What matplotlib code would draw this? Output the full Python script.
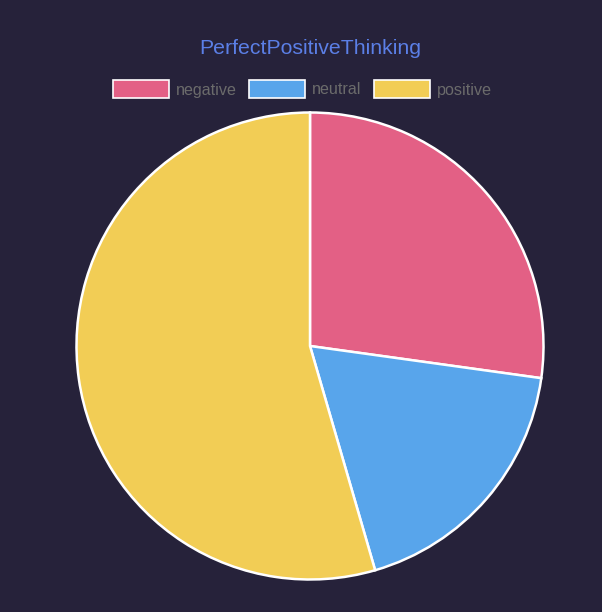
import matplotlib
matplotlib.use("Agg")
import matplotlib.pyplot as plt
from matplotlib.patches import Rectangle

labels = ["negative", "neutral", "positive"]
values = [27.2, 18.3, 54.5]
colors = ["#e36085", "#58a5eb", "#f2cd55"]
title = "PerfectPositiveThinking"

bg = "#26223a"
plt.rcParams['font.family'] = ['Liberation Sans', 'DejaVu Sans']

W, H = 602, 612
fig = plt.figure(figsize=(W/100., H/100.), dpi=100, facecolor=bg)

# pie axes: centre (310, 346) px, radius ~233 px
cx, cy, r = 310, 346, 233.5
ax = fig.add_axes([(cx - r)/W, (H - cy - r)/H, 2*r/W, 2*r/H])
ax.set_facecolor(bg)
ax.pie(values, colors=colors, startangle=90, counterclock=False, radius=1,
       wedgeprops=dict(edgecolor="white", linewidth=1.8))
ax.set_xlim(-1.0, 1.0)
ax.set_ylim(-1.0, 1.0)
ax.set_aspect("equal")
ax.axis("off")

fig.text(cx/W, 1 - 49/H, title, ha="center", va="center", color="#5b7fe6", fontsize=15.3)

# legend drawn by hand, chart.js style
box_x = [113, 249, 374]
for lab, col, bx in zip(labels, colors, box_x):
    fig.patches.append(Rectangle((bx/W, 1 - 98/H), 56/W, 18/H, transform=fig.transFigure,
                                 facecolor=col, edgecolor="white", linewidth=1.2))
    fig.text((bx + 63)/W, 1 - 90/H, lab, ha="left", va="center", color="#6b6b6b", fontsize=11.6)

fig.savefig("out.png", dpi=100, facecolor=bg)
